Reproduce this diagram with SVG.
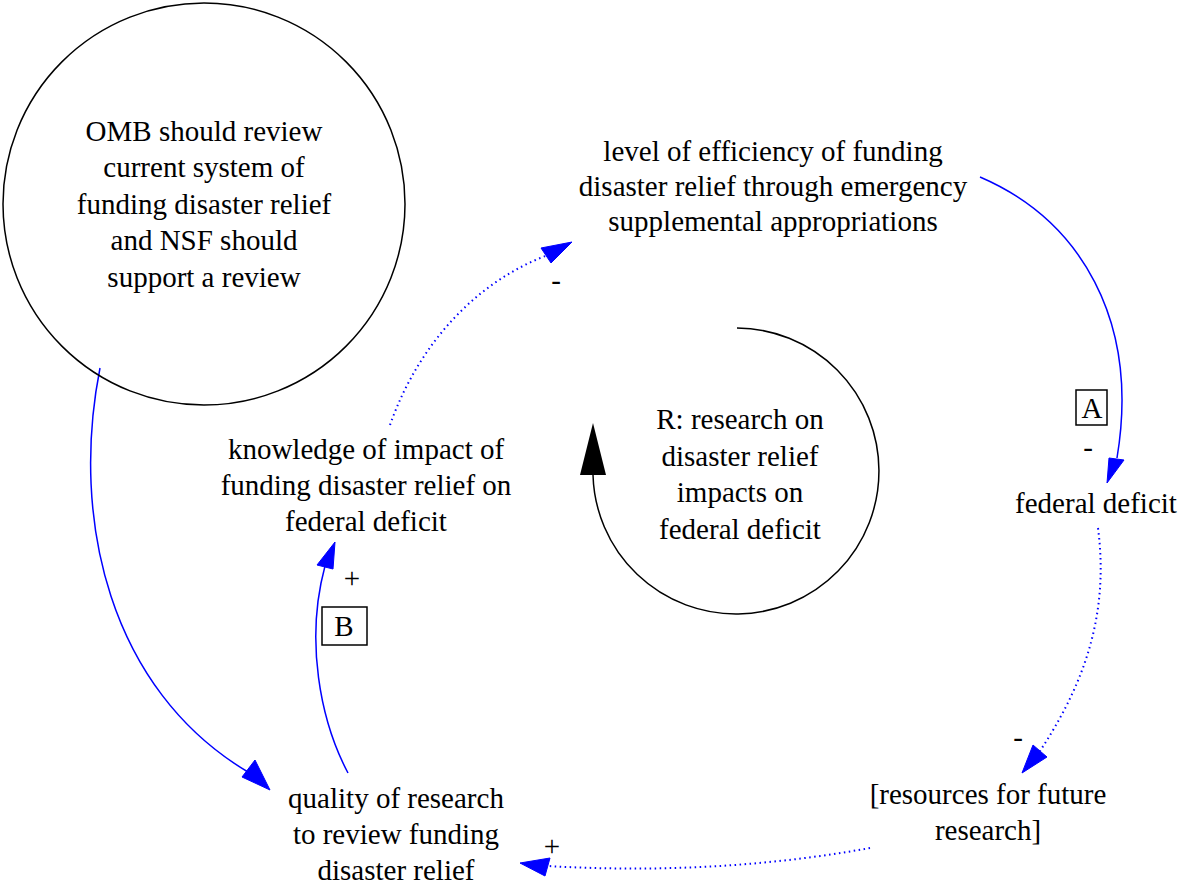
<svg xmlns="http://www.w3.org/2000/svg" width="1182" height="895" viewBox="0 0 1182 895" font-family="'Liberation Serif', 'Times New Roman', 'DejaVu Serif', serif">
<style>
text{font-family:'Liberation Serif','Times New Roman','DejaVu Serif',serif;font-size:29px;fill:#000;text-anchor:middle}
.e{fill:none;stroke:#0000ff;stroke-width:1.5}
.d{stroke-dasharray:1.5 3.5;stroke-width:2}
.ah{fill:#0000ff;stroke:#0000ff;stroke-width:1}
</style>
<rect width="1182" height="895" fill="#fff"/>
<g id="connectors">
<path class="e" d="M100,368 C70,520 110,690 248,772"/>
<polygon class="ah" points="270,790 242,777 255,760"/>
<path class="e" d="M348,773 C320,720 305,640 325,566"/>
<polygon class="ah" points="335,542 317,565 333,569"/>
<path class="e d" d="M390,425 C420,340 480,280 548,255"/>
<polygon class="ah" points="572,242 541,248 551,263"/>
<path class="e" d="M980,177 C1080,220 1140,320 1117,458"/>
<polygon class="ah" points="1107,483 1109,458 1124,460"/>
<path class="e d" d="M1098,528 C1110,620 1080,690 1040,751"/>
<polygon class="ah" points="1022,773 1033,745 1047,757"/>
<path class="e d" d="M870,848 C760,868 650,872 548,866"/>
<polygon class="ah" points="520,863 550,858 545,876"/>
<text x="556" y="290">-</text>
<text x="1088" y="457">-</text>
<rect x="1076" y="390" width="31" height="35" fill="none" stroke="#000" stroke-width="1.5"/>
<text x="1092" y="418">A</text>
<text x="1018" y="747">-</text>
<text x="552" y="856">+</text>
<text x="352" y="588">+</text>
<rect x="322" y="607" width="45" height="38" fill="none" stroke="#000" stroke-width="1.5"/>
<text x="344" y="636">B</text>
</g>
<g id="omb">
<circle cx="204" cy="204" r="201" fill="none" stroke="#000" stroke-width="1.5"/>
<text x="204" y="141">OMB should review</text>
<text x="204" y="177">current system of</text>
<text x="204" y="214">funding disaster relief</text>
<text x="204" y="250">and NSF should</text>
<text x="204" y="287">support a review</text>
</g>
<g id="efficiency">
<text x="773" y="161">level of efficiency of funding</text>
<text x="773" y="196">disaster relief through emergency</text>
<text x="773" y="231">supplemental appropriations</text>
</g>
<g id="knowledge">
<text x="366" y="459">knowledge of impact of</text>
<text x="366" y="495">funding disaster relief on</text>
<text x="366" y="531">federal deficit</text>
</g>
<g id="deficit">
<text x="1096" y="513">federal deficit</text>
</g>
<g id="resources">
<text x="988" y="804">[resources for future</text>
<text x="988" y="840">research]</text>
</g>
<g id="quality">
<text x="396" y="808">quality of research</text>
<text x="396" y="844">to review funding</text>
<text x="396" y="880">disaster relief</text>
</g>
<g id="loop">
<path d="M737,328 A143,143 0 1 1 593,475" fill="none" stroke="#000" stroke-width="1.5"/>
<polygon points="593,423 580,475 606,475" fill="#000"/>
<text x="740" y="429">R: research on</text>
<text x="740" y="466">disaster relief</text>
<text x="740" y="502">impacts on</text>
<text x="740" y="539">federal deficit</text>
</g>
</svg>
